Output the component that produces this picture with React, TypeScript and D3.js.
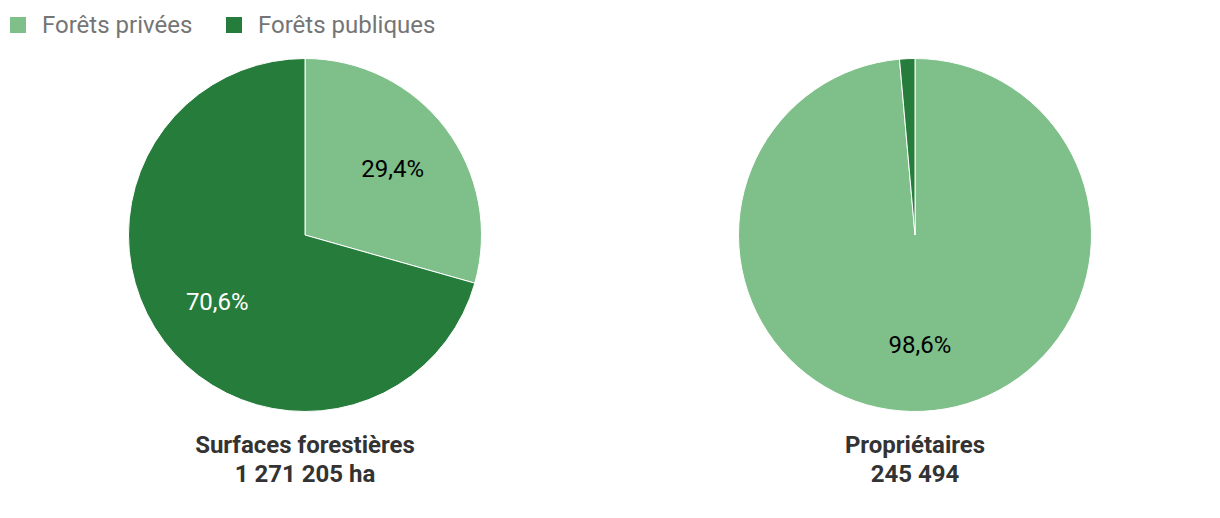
import { useMemo } from "react";
import * as d3 from "d3";

const categories = ["Forêts privées", "Forêts publiques"];
const colors = ["#7ebf8a", "#267c3a"];
const labelColors = ["#000000", "#ffffff"];

const surfaceValues = [29.4, 70.6];
const ownerValues = [98.6, 1.4];

const pies = [
  { title: "Surfaces forestières", subtitle: "1 271 205 ha", values: surfaceValues },
  { title: "Propriétaires", subtitle: "245 494", values: ownerValues },
];

const WIDTH = 1220;
const HEIGHT = 518;
const RADIUS = 176.5;
const CENTERS = [305, 915];
const CY = 235;
const FONT = 24;

const fmt = (v: number) => v.toFixed(1).replace(".", ",") + "%";

const Pie = ({ cx, values, title, subtitle }: { cx: number; values: number[]; title: string; subtitle: string }) => {
  const arcs = useMemo(() => d3.pie<number>().sort(null).value((d) => d)(values), [values]);
  const arcGen = d3.arc<d3.PieArcDatum<number>>().innerRadius(0).outerRadius(RADIUS);
  const labelArc = d3.arc<d3.PieArcDatum<number>>().innerRadius(110).outerRadius(110);

  return (
    <g>
      <g transform={`translate(${cx}, ${CY})`}>
        {arcs.map((a, i) => (
          <path key={i} d={arcGen(a) || undefined} fill={colors[i]} stroke="#ffffff" strokeWidth={1} />
        ))}
        {arcs.map((a, i) => {
          if (a.value < 5) return null;
          const [x, y] = labelArc.centroid(a);
          return (
            <text key={i} x={x} y={y} dy="0.35em" textAnchor="middle" fontSize={FONT} fill={labelColors[i]}>
              {fmt(a.value)}
            </text>
          );
        })}
      </g>
      <text x={cx} y={453} textAnchor="middle" fontSize={FONT} fontWeight="bold" fill="#333333">
        {title}
      </text>
      <text x={cx} y={482} textAnchor="middle" fontSize={FONT} fontWeight="bold" fill="#333333">
        {subtitle}
      </text>
    </g>
  );
};

const legendX = [10, 226];

export default function App() {
  return (
    <svg
      width={WIDTH}
      height={HEIGHT}
      style={{ position: "absolute", left: 0, top: 0, fontFamily: "Roboto, sans-serif" }}
    >
      <rect width={WIDTH} height={HEIGHT} fill="#ffffff" />
      {categories.map((c, i) => (
        <g key={c} transform={`translate(${legendX[i]}, 17)`}>
          <rect width={16} height={16} fill={colors[i]} />
          <text x={32} y={7.5} dy="0.35em" fontSize={FONT} fill="#757575">
            {c}
          </text>
        </g>
      ))}
      {pies.map((p, i) => (
        <Pie key={p.title} cx={CENTERS[i]} values={p.values} title={p.title} subtitle={p.subtitle} />
      ))}
    </svg>
  );
}
